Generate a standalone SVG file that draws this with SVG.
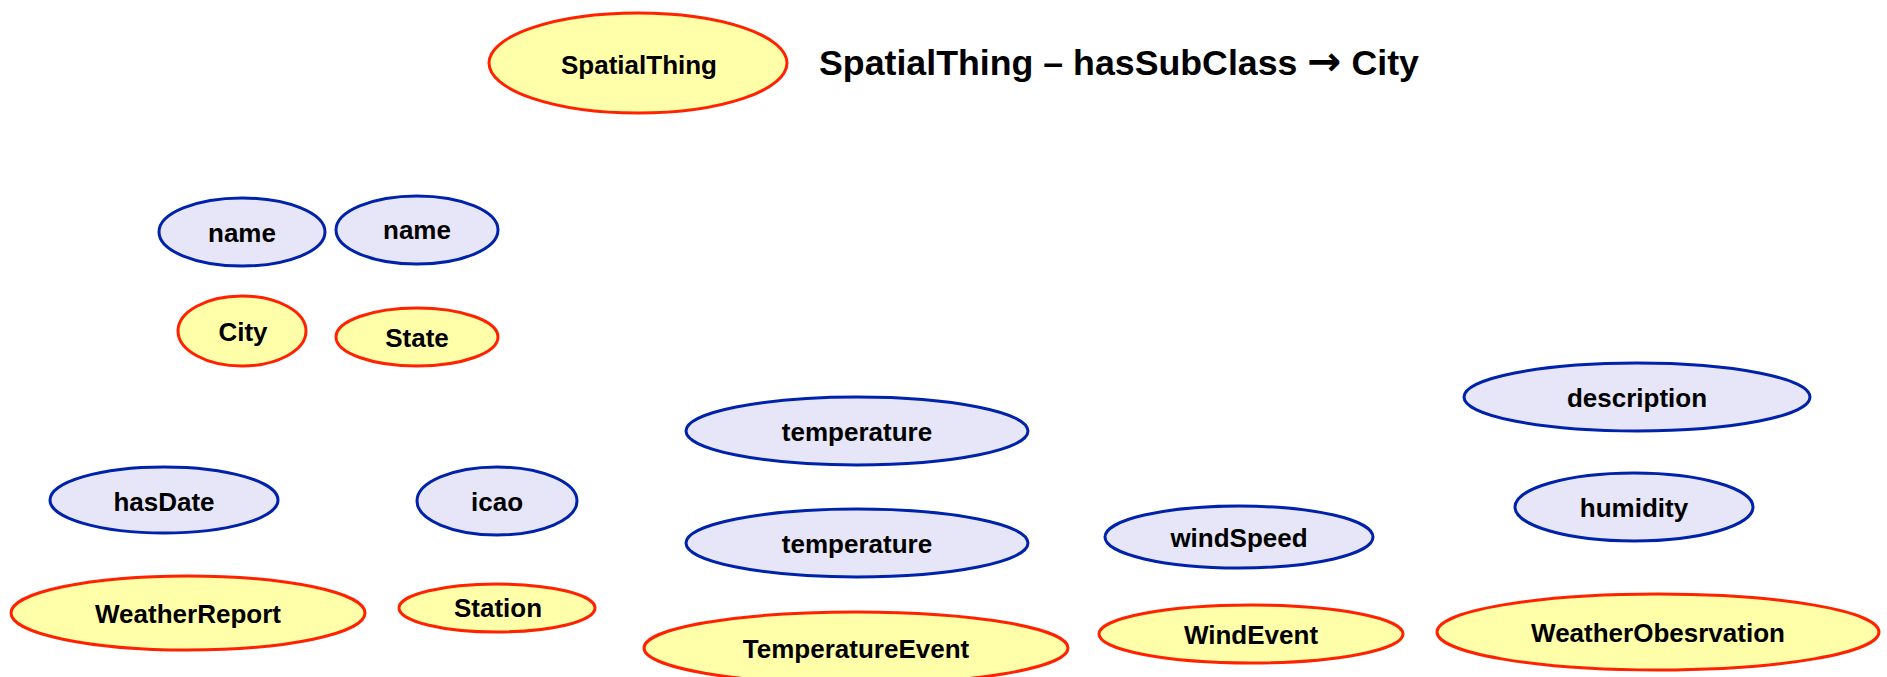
<svg xmlns="http://www.w3.org/2000/svg" width="1887" height="677" viewBox="0 0 1887 677">
<style>
.cls{fill:#FFFFAA;stroke:#FF2200;stroke-width:3}
.prop{fill:#E6E6F8;stroke:#0022AA;stroke-width:3}
.lbl{font-family:"Liberation Sans",Arial,sans-serif;font-weight:bold;font-size:26px;fill:#000;text-anchor:middle}
.title{font-family:"Liberation Sans",Arial,sans-serif;font-weight:bold;font-size:35px;fill:#000}
.arrow{font-family:"DejaVu Sans",sans-serif;font-weight:bold;font-size:40px}
</style>
<rect width="1887" height="677" fill="#fff"/>
<g id="connectors"></g>
<g id="n-spatialthing"><ellipse class="cls" cx="638" cy="63" rx="149" ry="50"/><text class="lbl" x="639" y="74">SpatialThing</text></g>
<text class="title" x="819" y="75" textLength="600" lengthAdjust="spacingAndGlyphs">SpatialThing – hasSubClass <tspan class="arrow">→</tspan> City</text>
<g id="n-name1"><ellipse class="prop" cx="242" cy="232" rx="83" ry="34"/><text class="lbl" x="242" y="242">name</text></g>
<g id="n-name2"><ellipse class="prop" cx="417" cy="230" rx="81" ry="34"/><text class="lbl" x="417" y="239">name</text></g>
<g id="n-city"><ellipse class="cls" cx="242" cy="331" rx="64" ry="35"/><text class="lbl" x="243" y="341">City</text></g>
<g id="n-state"><ellipse class="cls" cx="417" cy="337" rx="81" ry="29"/><text class="lbl" x="417" y="347">State</text></g>
<g id="n-hasdate"><ellipse class="prop" cx="164" cy="500" rx="114" ry="33"/><text class="lbl" x="164" y="511">hasDate</text></g>
<g id="n-icao"><ellipse class="prop" cx="497" cy="501" rx="80" ry="34"/><text class="lbl" x="497" y="511">icao</text></g>
<g id="n-weatherreport"><ellipse class="cls" cx="188" cy="613" rx="177" ry="37"/><text class="lbl" x="188" y="623">WeatherReport</text></g>
<g id="n-station"><ellipse class="cls" cx="497" cy="608" rx="98" ry="24"/><text class="lbl" x="498" y="617">Station</text></g>
<g id="n-temperature1"><ellipse class="prop" cx="857" cy="431" rx="171" ry="34"/><text class="lbl" x="857" y="441">temperature</text></g>
<g id="n-temperature2"><ellipse class="prop" cx="857" cy="543" rx="171" ry="34"/><text class="lbl" x="857" y="553">temperature</text></g>
<g id="n-temperatureevent"><ellipse class="cls" cx="856" cy="648" rx="212" ry="36"/><text class="lbl" x="856" y="658">TemperatureEvent</text></g>
<g id="n-windspeed"><ellipse class="prop" cx="1239" cy="537" rx="134" ry="31"/><text class="lbl" x="1239" y="547">windSpeed</text></g>
<g id="n-windevent"><ellipse class="cls" cx="1251" cy="634" rx="152" ry="29"/><text class="lbl" x="1251" y="644">WindEvent</text></g>
<g id="n-description"><ellipse class="prop" cx="1637" cy="397" rx="173" ry="34"/><text class="lbl" x="1637" y="407">description</text></g>
<g id="n-humidity"><ellipse class="prop" cx="1634" cy="507" rx="119" ry="34"/><text class="lbl" x="1634" y="517">humidity</text></g>
<g id="n-weatherobservation"><ellipse class="cls" cx="1658" cy="632" rx="221" ry="38"/><text class="lbl" x="1658" y="642">WeatherObesrvation</text></g>
</svg>
